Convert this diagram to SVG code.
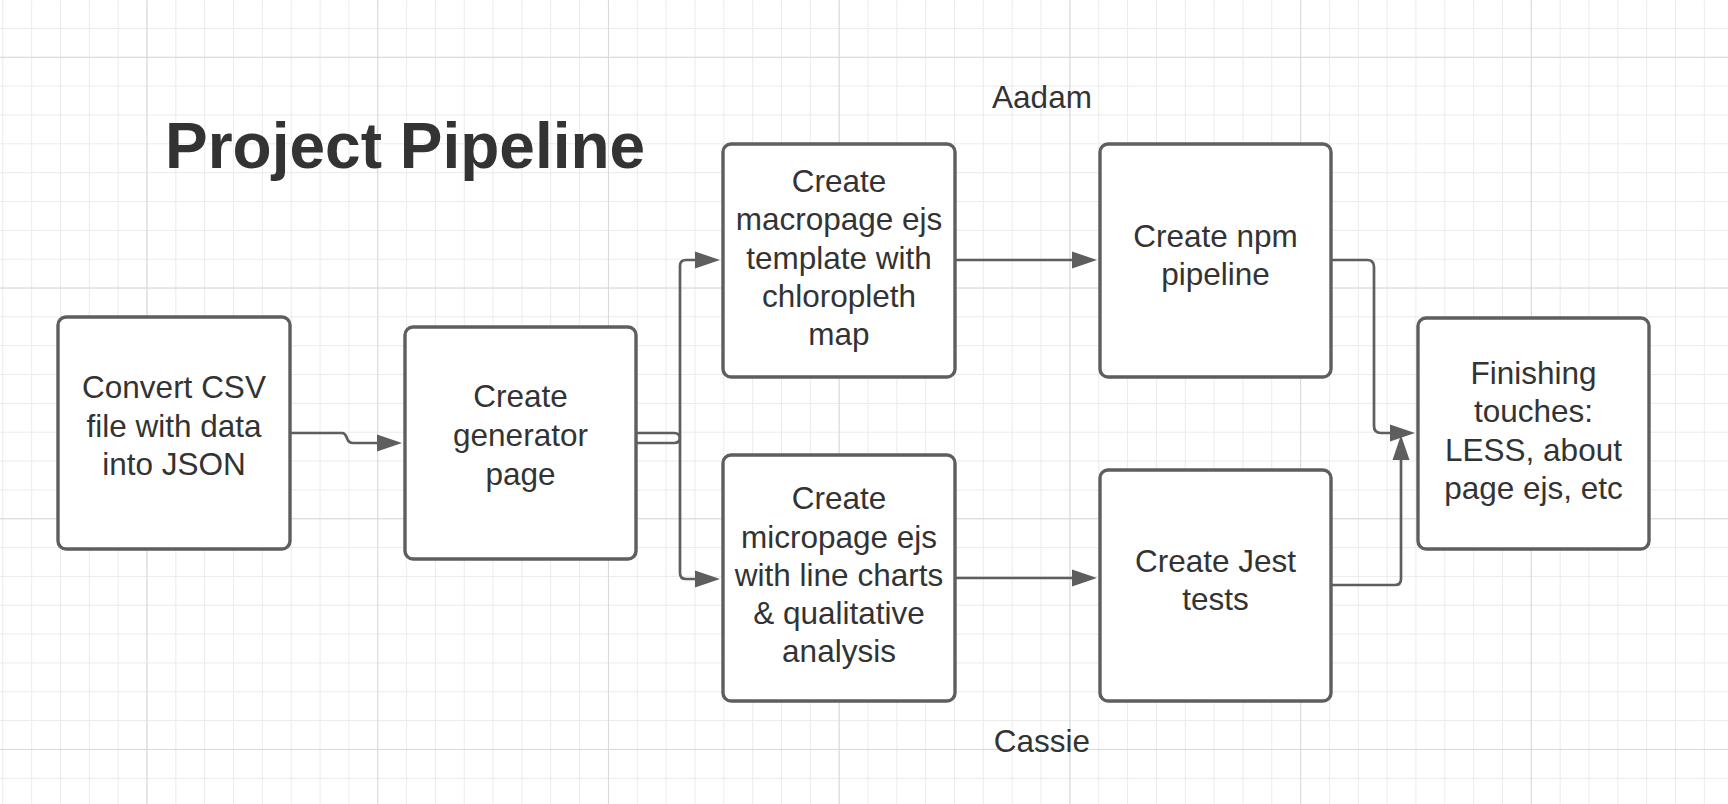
<svg xmlns="http://www.w3.org/2000/svg" width="1728" height="804" viewBox="0 0 1728 804">
<style>
.box{fill:#ffffff;stroke:#5e5e5e;stroke-width:3.4}
.lbl{font-family:"Liberation Sans",Arial,sans-serif;font-size:31.5px;fill:#333333;text-anchor:middle}
.title{font-family:"Liberation Sans",Arial,sans-serif;font-size:64px;font-weight:bold;fill:#333333}
.conn{fill:none;stroke:#5e5e5e;stroke-width:2.7}
.head{fill:#5e5e5e;stroke:none}
</style>
<defs>
<pattern id="minor" width="28.84" height="28.84" patternUnits="userSpaceOnUse" x="2.3" y="27.96">
<path d="M0.5,0 V28.84 M0,0.5 H28.84" stroke="#ebebeb" stroke-width="1" fill="none"/>
</pattern>
<pattern id="major" width="230.72" height="230.72" patternUnits="userSpaceOnUse" x="146.5" y="56.8">
<path d="M0.5,0 V230.72 M0,0.5 H230.72" stroke="#d9d9d9" stroke-width="1" fill="none"/>
</pattern>
</defs>
<rect width="1728" height="804" fill="#ffffff"/>
<rect width="1728" height="804" fill="url(#minor)"/>
<rect width="1728" height="804" fill="url(#major)"/>

<text id="title" class="title" x="165" y="168">Project Pipeline</text>
<text id="label-aadam" class="lbl" x="1042" y="108">Aadam</text>
<text id="label-cassie" class="lbl" x="1042" y="752">Cassie</text>

<g id="connectors">
<path class="conn" d="M290,433 H342 Q345,433 346.5,437 L347.5,439.5 Q349,443 353,443 H378"/>
<polygon class="head" points="377,434.5 402,443 377,451.5"/>
<path class="conn" d="M636,443 H674 Q680,443 680,437 V266 Q680,260 686,260 H696"/>
<polygon class="head" points="695,251.5 720,260 695,268.5"/>
<path class="conn" d="M636,433 H674 Q680,433 680,439 V573 Q680,579 686,579 H696"/>
<polygon class="head" points="695,570.5 720,579 695,587.5"/>
<path class="conn" d="M955,260 H1073"/>
<polygon class="head" points="1072,251.5 1097,260 1072,268.5"/>
<path class="conn" d="M955,578 H1073"/>
<polygon class="head" points="1072,569.5 1097,578 1072,586.5"/>
<path class="conn" d="M1331,260 H1367 Q1374,260 1374,267 V426 Q1374,433 1381,433 H1391"/>
<polygon class="head" points="1390,424.5 1415,433 1390,441.5"/>
<path class="conn" d="M1331,585 H1395 Q1401,585 1401,579 V459"/>
<polygon class="head" points="1392.5,460 1401,435 1409.5,460"/>
</g>

<g id="node-convert">
<rect class="box" x="58" y="317" width="232" height="232" rx="8"/>
<text class="lbl" x="174" y="398">Convert CSV</text>
<text class="lbl" x="174" y="436.5">file with data</text>
<text class="lbl" x="174" y="475">into JSON</text>
</g>
<g id="node-generator">
<rect class="box" x="405" y="327" width="231" height="232" rx="8"/>
<text class="lbl" x="520.5" y="407">Create</text>
<text class="lbl" x="520.5" y="446">generator</text>
<text class="lbl" x="520.5" y="485">page</text>
</g>
<g id="node-macropage">
<rect class="box" x="723" y="144" width="232" height="233" rx="8"/>
<text class="lbl" x="839" y="192">Create</text>
<text class="lbl" x="839" y="230">macropage ejs</text>
<text class="lbl" x="839" y="268.5">template with</text>
<text class="lbl" x="839" y="306.5">chloropleth</text>
<text class="lbl" x="839" y="345">map</text>
</g>
<g id="node-micropage">
<rect class="box" x="723" y="455" width="232" height="246" rx="8"/>
<text class="lbl" x="839" y="509">Create</text>
<text class="lbl" x="839" y="547.5">micropage ejs</text>
<text class="lbl" x="839" y="586">with line charts</text>
<text class="lbl" x="839" y="624">&amp; qualitative</text>
<text class="lbl" x="839" y="662">analysis</text>
</g>
<g id="node-npm">
<rect class="box" x="1100" y="144" width="231" height="233" rx="8"/>
<text class="lbl" x="1215.5" y="247">Create npm</text>
<text class="lbl" x="1215.5" y="285">pipeline</text>
</g>
<g id="node-jest">
<rect class="box" x="1100" y="470" width="231" height="231" rx="8"/>
<text class="lbl" x="1215.5" y="572">Create Jest</text>
<text class="lbl" x="1215.5" y="610">tests</text>
</g>
<g id="node-finishing">
<rect class="box" x="1418" y="318" width="231" height="231" rx="8"/>
<text class="lbl" x="1533.5" y="384">Finishing</text>
<text class="lbl" x="1533.5" y="422">touches:</text>
<text class="lbl" x="1533.5" y="461">LESS, about</text>
<text class="lbl" x="1533.5" y="499">page ejs, etc</text>
</g>
</svg>
